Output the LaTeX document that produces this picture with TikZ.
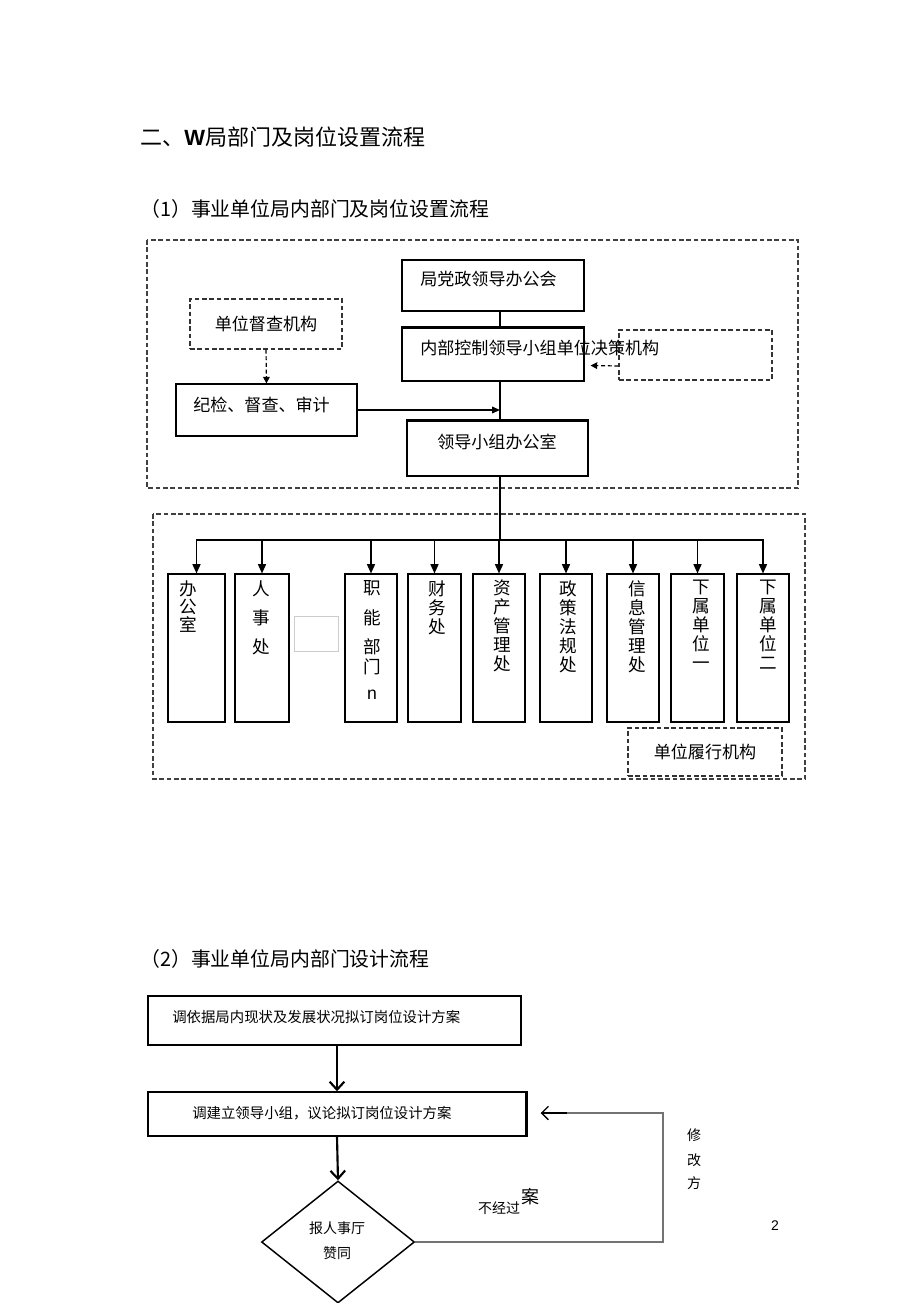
\documentclass[tikz,border=0pt]{standalone}
\usepackage{fontspec}
\setmainfont{Noto Sans CJK SC}
\newfontfamily\latfont{Liberation Sans}
\usetikzlibrary{arrows.meta,calc,shapes.geometric}
\newcommand\myfH{\fontsize{16.5}{19}\selectfont}
\newcommand\myfS{\fontsize{14.9}{17}\selectfont}
\newcommand\myfA{\fontsize{12.8}{15}\selectfont}
\newcommand\myfB{\fontsize{10.8}{13}\selectfont}
\begin{document}
\begin{tikzpicture}[x=0.75pt,y=-0.75pt,
  box/.style={draw,line width=0.8pt,inner sep=0pt},
  dbox/.style={draw=black!80,line width=0.8pt,inner sep=0pt,dash pattern=on 3.5pt off 2pt},
  outer/.style={draw=black!75,line width=0.8pt,dash pattern=on 3.5pt off 2pt},
  coltext/.style={anchor=north,align=center,inner sep=0pt,font=\myfA},
  busarrow/.style={line width=1.1pt,-{Triangle[length=7pt,width=6pt]}},
  flowarrow/.style={line width=1.6pt,-{Straight Barb[length=6pt,width=11pt]}},
  txt/.style={inner sep=0pt}
]
\useasboundingbox (0,0) rectangle (920,1303);

% headings
\node[txt,anchor=west,font=\myfH] (h0) at (140,137) {二、{\latfont\bfseries W}局部门及岗位设置流程};
\node[txt,anchor=west,font=\myfS] (h1) at (140,209) {（1）事业单位局内部门及岗位设置流程};

% outer dashed frames
\draw[outer] (147,240) rectangle (798,488);
\draw[outer] (153,514) rectangle (805,779);

% upper part
\node[box,minimum width=136.5pt,minimum height=38.25pt] (A) at (493,285.5) {};
\node[txt,anchor=west,font=\myfA] (At) at (420,279) {局党政领导办公会};
\node[dbox,minimum width=114.75pt,minimum height=37.5pt] (R) at (695.5,355) {};
\node[box,minimum width=136.5pt,minimum height=39.75pt] (B) at (493,354.5) {};
\draw[line width=1.6pt] (B.north west) -- (B.north east);
\node[txt,anchor=west,font=\myfA] (Bt) at (420,348) {内部控制领导小组单位决策机构};
\draw[line width=0.9pt,dash pattern=on 3pt off 2pt,-{Triangle[length=5pt,width=5pt]}] ($(R.west)+(0,11)$) -- ($(B.east)+(6,11)$);

\node[dbox,minimum width=114pt,minimum height=37.5pt,font=\myfA] (C) at (266,324) {单位督查机构};
\node[box,minimum width=135.75pt,minimum height=39pt] (D) at (266.5,410) {};
\node[txt,anchor=west,font=\myfA] (Dt) at (193,405) {纪检、督查、审计};
\draw[line width=0.9pt,dash pattern=on 3pt off 2pt,-{Triangle[length=5pt,width=5pt]}] (C.south) -- (D.north);

\node[box,minimum width=135.75pt,minimum height=41.25pt] (E) at (497.5,448.5) {};
\draw[line width=1.6pt] (E.north west) -- (E.north east);
\node[txt,font=\myfA] (Et) at (497,442) {领导小组办公室};

\coordinate (spine) at (500,540);
\coordinate (join) at (500,410);
\draw[line width=0.9pt] (A.south -| spine) -- (B.north -| spine);
\draw[line width=0.9pt] (B.south -| spine) -- (E.north -| spine);
\draw[line width=1.1pt] (E.south -| spine) -- (spine);
\draw[line width=1.1pt,-{Triangle[length=6pt,width=5pt]}] (D.east |- join) -- (join);

% bus
\coordinate (busL) at (196,540);
\coordinate (busR) at (764,540);
\draw[line width=1.1pt] (busL) -- (busR);

% columns
\node[box,minimum width=42.75pt,minimum height=111pt] (c1) at (196.5,648) {};
\node[box,minimum width=40.5pt,minimum height=111pt] (c2) at (262,648) {};
\node[box,minimum width=39pt,minimum height=111pt] (c3) at (371,648) {};
\node[box,minimum width=39.75pt,minimum height=111pt] (c4) at (434.5,648) {};
\node[box,minimum width=39pt,minimum height=111pt] (c5) at (499,648) {};
\node[box,minimum width=39pt,minimum height=111pt] (c6) at (566,648) {};
\node[box,minimum width=39pt,minimum height=111pt] (c7) at (633,648) {};
\node[box,minimum width=39.75pt,minimum height=111pt] (c8) at (697.5,648) {};
\node[box,minimum width=39pt,minimum height=111pt] (c9) at (763,648) {};

\foreach \c in {c1,c2,c3,c4,c5,c6,c7,c8,c9}{
  \draw[busarrow] (\c.north |- busL) -- (\c.north);
}

\node[coltext,font=\fontsize{13.2}{13.5}\selectfont] (t1) at (188,580) {办\\公\\室};
\node[coltext,font=\fontsize{13.2}{21.75}\selectfont] (t2) at (261,580) {人\\事\\处};
\node[coltext,font=\fontsize{13.2}{15}\selectfont] (t3) at (372,580) {职\\[7.5pt]能\\[6.75pt]部\\门\\[4.5pt]{\latfont n}};
\node[coltext,font=\fontsize{13.2}{14.25}\selectfont] (t4) at (437,580) {财\\务\\处};
\node[coltext,font=\fontsize{13.2}{14.25}\selectfont] (t5) at (502,580) {资\\产\\管\\理\\处};
\node[coltext,font=\fontsize{13.2}{14.25}\selectfont] (t6) at (568,580) {政\\策\\法\\规\\处};
\node[coltext,font=\fontsize{13.2}{14.25}\selectfont] (t7) at (637,580) {信\\息\\管\\理\\处};
\node[coltext,font=\fontsize{13.2}{14.25}\selectfont] (t8) at (701,580) {下\\属\\单\\位\\一};
\node[coltext,font=\fontsize{13.2}{14.25}\selectfont] (t9) at (768,580) {下\\属\\单\\位\\二};

\node[draw=black!20,line width=0.6pt,minimum width=33pt,minimum height=26.25pt,inner sep=0pt] (faint) at (316,633.5) {};

\node[dbox,minimum width=115.5pt,minimum height=36pt,font=\myfA] (L) at (705,752) {单位履行机构};

% section 2
\node[txt,anchor=west,font=\myfS] (h2) at (140,959) {（2）事业单位局内部门设计流程};

\node[box,line width=1.1pt,minimum width=279.75pt,minimum height=36.75pt] (F) at (334.5,1020.5) {};
\node[txt,anchor=west,font=\myfB] (Ft) at (172,1017) {调依据局内现状及发展状况拟订岗位设计方案};
\node[box,line width=1.1pt,minimum width=283.5pt,minimum height=33pt] (G) at (337,1114) {};
\draw[line width=1.8pt] (G.north east) -- (G.south east);
\node[txt,anchor=west,font=\myfB] (Gt) at (192,1113) {调建立领导小组，议论拟订岗位设计方案};

\node[draw,line width=1.1pt,shape=diamond,inner sep=0pt,minimum width=114.75pt,minimum height=91.5pt] (H) at (338,1242) {};
\node[txt,align=center,font=\fontsize{10.5}{18.75}\selectfont] (Ht) at (337,1241) {报人事厅\\赞同};

\draw[flowarrow] (F.south -| G.center) -- (G.north);
\draw[flowarrow] (G.south) -- (H.north);

\coordinate (fb1) at (663,1242);
\coordinate (fb2) at (663,1113);
\draw[line width=0.9pt,black!55] (H.east) -- (fb1) -- (fb2) -- ($(G.east)+(14,-1)$);
\draw[line width=1pt,-{Straight Barb[length=5pt,width=10pt]}] ($(G.east)+(40,-1)$) -- ($(G.east)+(14,-1)$);

\node[txt,font=\fontsize{10.5}{12}\selectfont] (n1) at (499,1208) {不经过};
\node[txt,font=\fontsize{13.5}{15}\selectfont] (n2) at (530,1197) {案};
\node[txt,font=\fontsize{10.5}{12}\selectfont] (m1) at (694,1135) {修};
\node[txt,font=\fontsize{10.5}{12}\selectfont] (m2) at (694,1160) {改};
\node[txt,font=\fontsize{10.5}{12}\selectfont] (m3) at (694,1183) {方};
\node[txt,font=\latfont\fontsize{10.5}{12}\selectfont] (pg) at (775,1226) {2};
\end{tikzpicture}
\end{document}
